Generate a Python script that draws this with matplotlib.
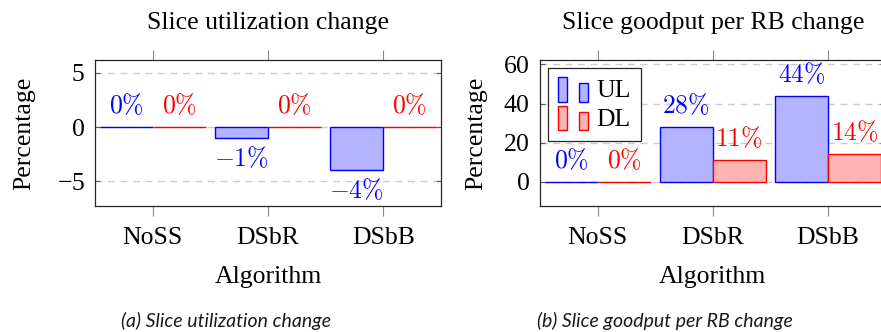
import numpy as np
import matplotlib
matplotlib.use('Agg')
import matplotlib.pyplot as plt
from matplotlib.patches import Rectangle
from matplotlib.legend_handler import HandlerBase

# text in Times-like serif, numbers in Computer Modern math
plt.rcParams['font.family'] = 'serif'
plt.rcParams['font.serif'] = ['Liberation Serif']
plt.rcParams['mathtext.fontset'] = 'cm'
plt.rcParams['axes.formatter.use_mathtext'] = True

# data
algorithms = ['NoSS', 'DSbR', 'DSbB']
util_ul = [0, -1, -4]
util_dl = [0, 0, 0]
goodput_ul = [0, 28, 44]
goodput_dl = [0, 11, 14]
series_names = ['UL', 'DL']

util_yticks = [-5, 0, 5]
goodput_yticks = [0, 20, 40, 60]

FS = 18.5

# pgfplots-like colors (blue!30 / red!30 fill)
blue_face, blue_edge = (0.7, 0.7, 1.0), (0, 0, 1)
red_face, red_edge = (1.0, 0.7, 0.7), (1, 0, 0)


class TwoBarHandler(HandlerBase):
    # legend image with two small bars, like pgfplots ybar legend
    def create_artists(self, legend, orig_handle, xdescent, ydescent,
                       width, height, fontsize, trans):
        fc = orig_handle.get_facecolor()
        ec = orig_handle.get_edgecolor()
        w = width * 0.3
        y0 = -ydescent - 0.2 * height
        r1 = Rectangle((-xdescent, y0), w, height * 1.25,
                       facecolor=fc, edgecolor=ec, lw=1, transform=trans)
        r2 = Rectangle((-xdescent + width * 0.68, y0), w, height * 0.95,
                       facecolor=fc, edgecolor=ec, lw=1, transform=trans)
        return [r1, r2]


def draw_panel(ax, ul, dl, ylim, yticks, title):
    x = np.arange(1, len(algorithms) + 1)
    bw = 0.46
    ax.bar(x - bw / 2, ul, bw, color=blue_face, edgecolor=blue_edge, linewidth=1, zorder=3)
    ax.bar(x + bw / 2, dl, bw, color=red_face, edgecolor=red_edge, linewidth=1, zorder=3)
    for xs, vals, col in [(x - bw / 2, ul, blue_edge), (x + bw / 2, dl, red_edge)]:
        for xi, v in zip(xs, vals):
            ax.annotate(r'$%d\%%$' % v, (xi, v), xytext=(0, 14 if v >= 0 else -28),
                        textcoords='offset pixels', ha='center', va='baseline',
                        color=col, fontsize=FS)
    ax.set_xlim(0.5, 3.5)
    ax.set_ylim(*ylim)
    ax.set_xticks(x)
    ax.set_xticklabels(algorithms, fontsize=FS)
    ax.set_yticks(yticks)
    ax.tick_params(axis='y', labelsize=FS, direction='in', length=3.5, left=True, right=True,
                   color='0.35', width=0.8, pad=7)
    ax.tick_params(axis='x', direction='out', length=7.5, top=True, bottom=True,
                   color='0.55', width=0.8, pad=7.5)
    ax.grid(True, axis='y', linestyle=(0, (5, 4)), color='0.8', linewidth=1, zorder=0)
    ax.set_xlabel('Algorithm', fontsize=FS, labelpad=12)
    ax.set_ylabel('Percentage', fontsize=FS)
    ax.text(0.5, 1.212, title, transform=ax.transAxes, ha='center', va='baseline', fontsize=FS)
    for s in ax.spines.values():
        s.set_linewidth(0.9)
        s.set_color('0.15')


fig = plt.figure(figsize=(8.81, 3.32), dpi=100)
ax1 = fig.add_axes([0.1078, 0.3795, 0.3927, 0.4398])
ax2 = fig.add_axes([0.6129, 0.3795, 0.3922, 0.4398])

draw_panel(ax1, util_ul, util_dl, (-7.3, 6.2), util_yticks, 'Slice utilization change')
draw_panel(ax2, goodput_ul, goodput_dl, (-12.3, 62.2), goodput_yticks,
           'Slice goodput per RB change')
ax1.yaxis.set_label_coords(-0.173, 0.5)
ax2.yaxis.set_label_coords(-0.153, 0.5)

h_ul = Rectangle((0, 0), 1, 1, facecolor=blue_face, edgecolor=blue_edge)
h_dl = Rectangle((0, 0), 1, 1, facecolor=red_face, edgecolor=red_edge)
leg = ax2.legend([h_ul, h_dl], series_names, loc='upper left',
                 handler_map={Rectangle: TwoBarHandler()}, fontsize=FS,
                 fancybox=False, framealpha=1, edgecolor='0.15',
                 handlelength=1.2, handleheight=0.8, handletextpad=0.3, borderpad=0.4,
                 labelspacing=0.2, borderaxespad=0.3)
leg.get_frame().set_linewidth(0.9)

cap_font = ['Lato', 'DejaVu Sans']
fig.text(226 / 881, 1 - 321 / 332, '(a) Slice utilization change', ha='center', va='center',
         style='italic', fontsize=14, family=cap_font, color='0.1')
fig.text(665 / 881, 1 - 321 / 332, '(b) Slice goodput per RB change', ha='center', va='center',
         style='italic', fontsize=14, family=cap_font, color='0.1')

fig.savefig('out.png', dpi=100)
